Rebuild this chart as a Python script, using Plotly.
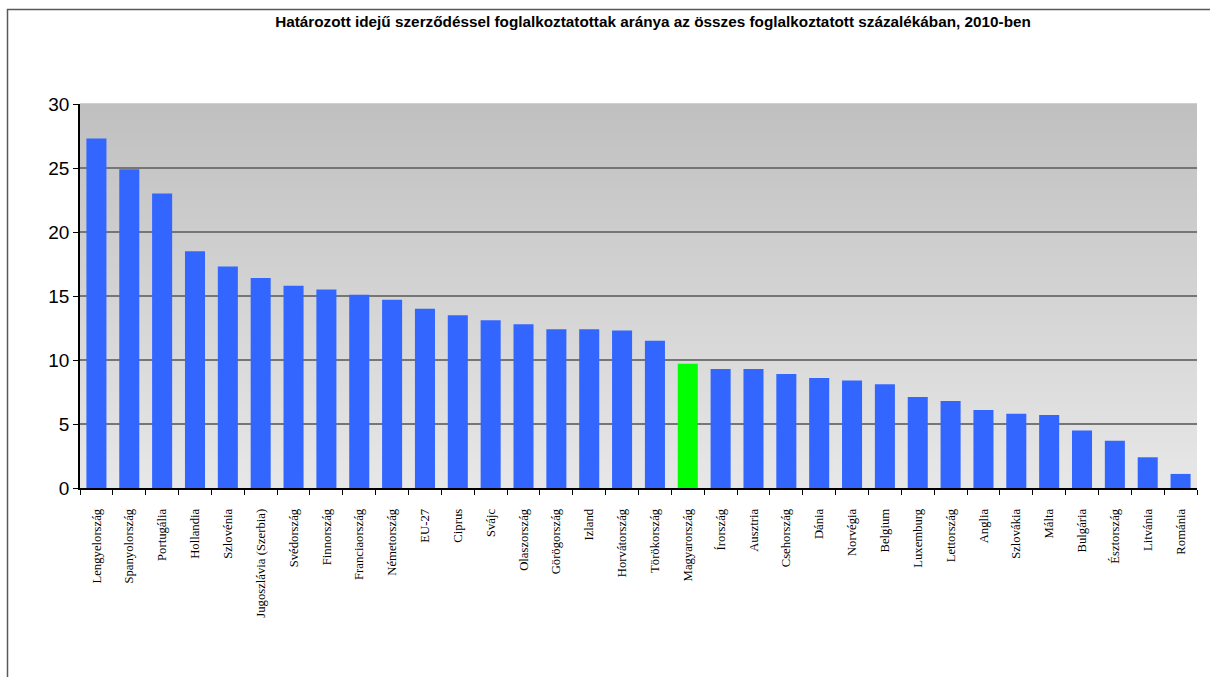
import plotly.graph_objects as go

# ---- data ----
countries = [
    "Lengyelország", "Spanyolország", "Portugália", "Hollandia", "Szlovénia",
    "Jugoszlávia (Szerbia)", "Svédország", "Finnország", "Franciaország",
    "Németország", "EU-27", "Ciprus", "Svájc", "Olaszország", "Görögország",
    "Izland", "Horvátország", "Törökország", "Magyarország", "Írország",
    "Ausztria", "Csehország", "Dánia", "Norvégia", "Belgium", "Luxemburg",
    "Lettország", "Anglia", "Szlovákia", "Málta", "Bulgária", "Észtország",
    "Litvánia", "Románia",
]
values = [
    27.3, 24.9, 23.0, 18.5, 17.3,
    16.4, 15.8, 15.5, 15.1,
    14.7, 14.0, 13.5, 13.1, 12.8, 12.4,
    12.4, 12.3, 11.5, 9.7, 9.3,
    9.3, 8.9, 8.6, 8.4, 8.1, 7.1,
    6.8, 6.1, 5.8, 5.7, 4.5, 3.7,
    2.4, 1.1,
]
highlight = "Magyarország"
title_text = ("Határozott idejű szerződéssel foglalkoztatottak aránya az összes "
              "foglalkoztatott százalékában, 2010-ben")
y_ticks = [0, 5, 10, 15, 20, 25, 30]

# ---- styling ----
BLUE = "#3366FF"
GREEN = "#00FF00"
colors = [GREEN if c == highlight else BLUE for c in countries]

fig = go.Figure(
    go.Bar(
        x=countries,
        y=values,
        marker=dict(color=colors, line=dict(width=0)),
        hoverinfo="x+y",
    )
)

# vertical gradient background for plot area (dark gray top -> light gray bottom)
shapes = []
n_bands = 96
top_c, bot_c = 192, 231
for i in range(n_bands):
    t = i / (n_bands - 1)
    v = round(bot_c + (top_c - bot_c) * t)
    shapes.append(dict(
        type="rect", xref="x domain", yref="y domain",
        x0=0, x1=1, y0=i / n_bands, y1=(i + 1) / n_bands + 0.002,
        fillcolor=f"rgb({v},{v},{v})", line=dict(width=0), layer="below",
    ))

# chart-area frame (left and top edges visible)
shapes.append(dict(
    type="rect", xref="paper", yref="paper",
    x0=-(80 - 7.5) / 1117, x1=1.2, y0=-0.5, y1=1 + (104 - 9.5) / 384,
    line=dict(color="#595959", width=1.5), fillcolor="rgba(0,0,0,0)",
    layer="below",
))

fig.update_layout(
    width=1210, height=677,
    margin=dict(l=80, r=13, t=104, b=189),
    paper_bgcolor="white",
    plot_bgcolor="rgba(0,0,0,0)",
    showlegend=False,
    bargap=0.39,
    shapes=shapes,
    title=dict(
        text=f"<b>{title_text}</b>",
        font=dict(family="Liberation Sans, Arial", size=15.3, color="black"),
        x=653 / 1210, xanchor="center", xref="container",
        y=1 - 22 / 677, yanchor="middle", yref="container",
    ),
    font=dict(family="Liberation Sans, Arial", color="black"),
)

fig.update_xaxes(
    type="category",
    showline=True, linecolor="black", linewidth=1.5,
    ticks="outside", ticklen=5, tickcolor="black", tickwidth=1,
    tickson="boundaries",
    tickangle=-90,
    ticklabelstandoff=14,
    tickfont=dict(family="Liberation Serif, Times New Roman", size=12.7, color="black"),
    showgrid=False,
)
fig.update_yaxes(
    range=[0, 30],
    tickvals=y_ticks,
    showline=True, linecolor="black", linewidth=1.5,
    ticks="outside", ticklen=5, tickcolor="black", tickwidth=1,
    tickfont=dict(family="Liberation Sans, Arial", size=19, color="black"),
    showgrid=True, gridcolor="#767676", gridwidth=1.5,
    zeroline=False,
)

fig.write_html("out.html")
